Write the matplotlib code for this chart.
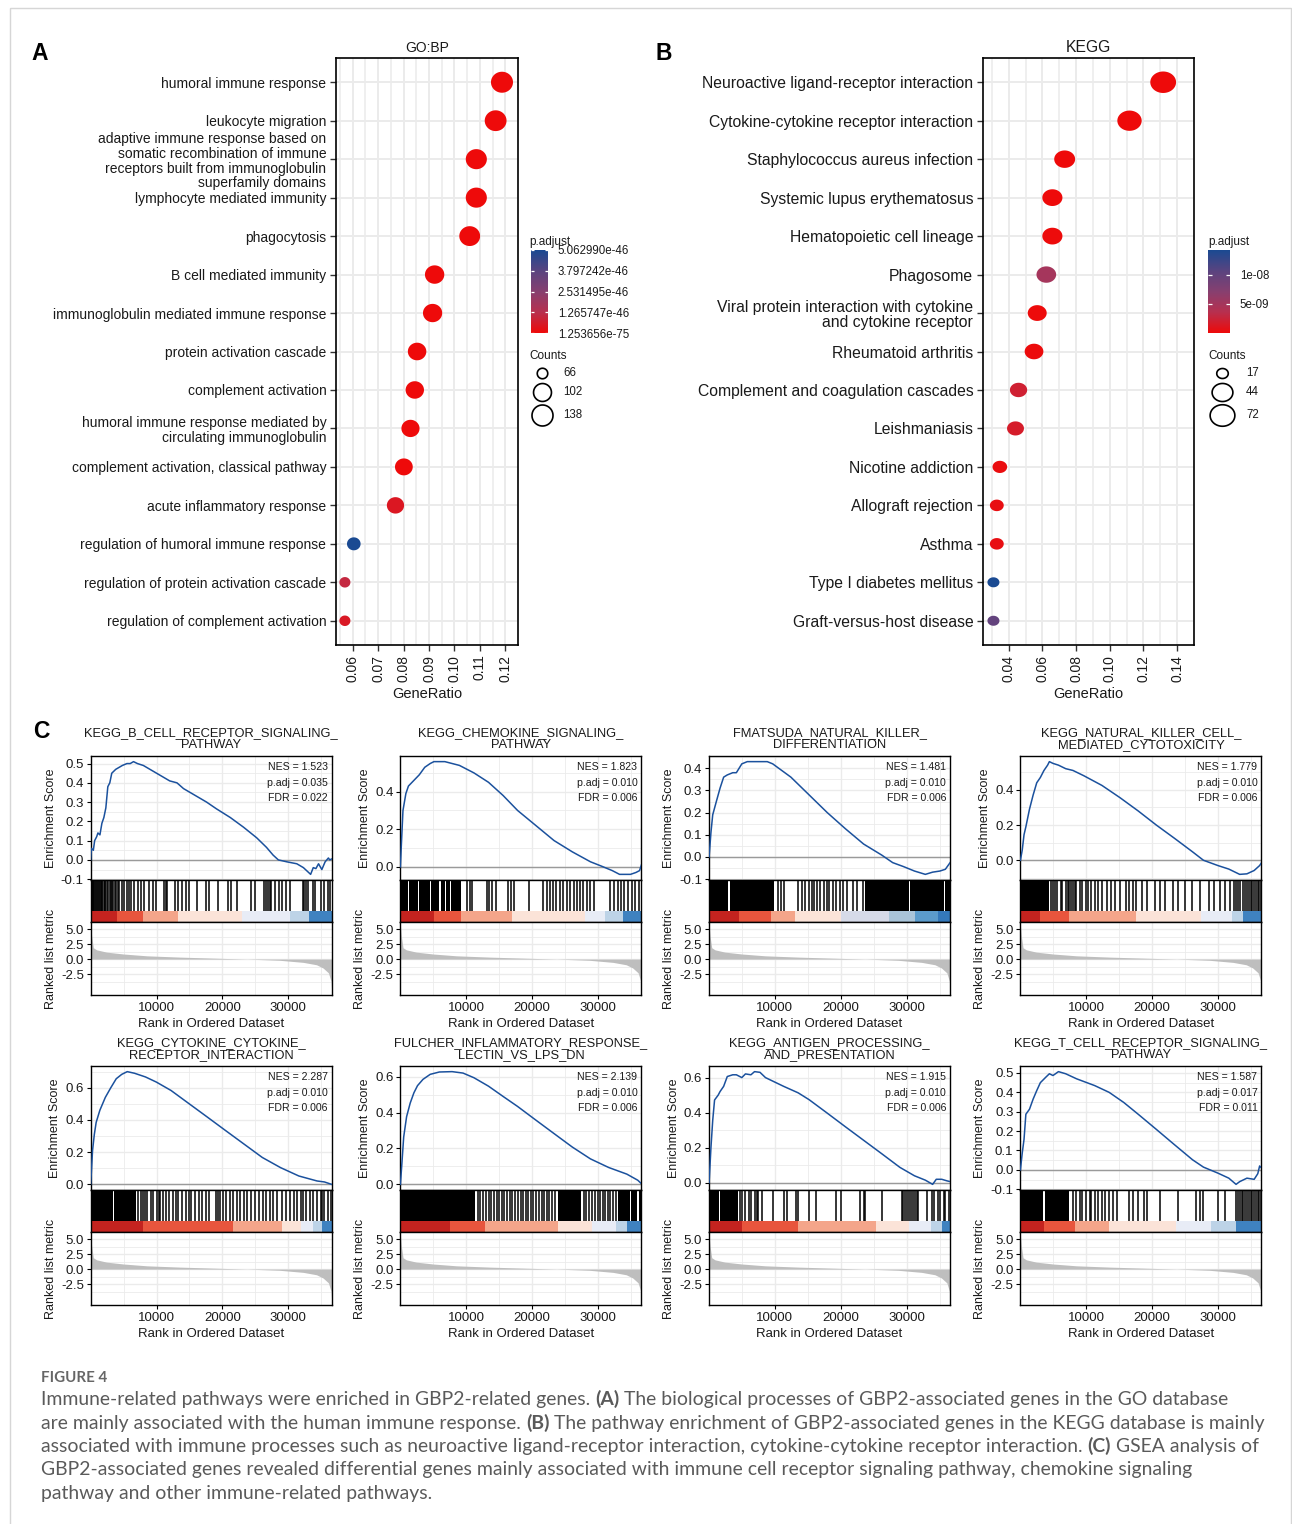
import numpy as np
import matplotlib
matplotlib.use("Agg")
import matplotlib.pyplot as plt
from matplotlib.path import Path
from matplotlib.colors import LinearSegmentedColormap, Normalize
from matplotlib.patches import Rectangle

plt.rcParams["font.family"] = ["Liberation Sans", "DejaVu Sans"]
plt.rcParams["axes.unicode_minus"] = False

# ------------------------------------------------------------------ data A
go_terms = [
    "humoral immune response",
    "leukocyte migration",
    "adaptive immune response based on\nsomatic recombination of immune\nreceptors built from immunoglobulin\nsuperfamily domains",
    "lymphocyte mediated immunity",
    "phagocytosis",
    "B cell mediated immunity",
    "immunoglobulin mediated immune response",
    "protein activation cascade",
    "complement activation",
    "humoral immune response mediated by\ncirculating immunoglobulin",
    "complement activation, classical pathway",
    "acute inflammatory response",
    "regulation of humoral immune response",
    "regulation of protein activation cascade",
    "regulation of complement activation",
]
go_ratio = [0.1187, 0.1162, 0.1086, 0.1086, 0.1060, 0.0922, 0.0914, 0.0853,
            0.0844, 0.0827, 0.0801, 0.0768, 0.0604, 0.0569, 0.0569]
go_count = [138, 135, 126, 126, 123, 107, 106, 99, 98, 96, 93, 89, 70, 66, 66]
go_padj = [1.253656e-75, 3e-70, 5e-66, 5e-66, 2e-68, 1e-58, 4e-58, 2e-55,
           3e-55, 1e-54, 2e-53, 4.5e-47, 5.062990e-46, 1.0e-46, 5.1e-47]
go_padj_labels = ["1.253656e-75", "1.265747e-46", "2.531495e-46",
                  "3.797242e-46", "5.062990e-46"]
go_xticks = [0.06, 0.07, 0.08, 0.09, 0.10, 0.11, 0.12]
go_count_breaks = [66, 102, 138]

# ------------------------------------------------------------------ data B
kegg_terms = [
    "Neuroactive ligand-receptor interaction",
    "Cytokine-cytokine receptor interaction",
    "Staphylococcus aureus infection",
    "Systemic lupus erythematosus",
    "Hematopoietic cell lineage",
    "Phagosome",
    "Viral protein interaction with cytokine\nand cytokine receptor",
    "Rheumatoid arthritis",
    "Complement and coagulation cascades",
    "Leishmaniasis",
    "Nicotine addiction",
    "Allograft rejection",
    "Asthma",
    "Type I diabetes mellitus",
    "Graft-versus-host disease",
]
kegg_ratio = [0.1317, 0.1117, 0.0732, 0.0659, 0.0659, 0.0623, 0.0569, 0.0550,
              0.0458, 0.0440, 0.0347, 0.0329, 0.0329, 0.0309, 0.0309]
kegg_count = [72, 61, 40, 36, 36, 34, 31, 30, 25, 24, 19, 18, 18, 17, 17]
kegg_padj = [1.2e-12, 3e-12, 2e-11, 5e-11, 6e-11, 5.0e-09, 1e-10, 1.5e-10,
             2.1e-09, 1.7e-09, 3e-10, 4e-10, 4e-10, 1.428e-08, 1.0e-08]
kegg_padj_labels = ["5e-09", "1e-08"]
kegg_xticks = [0.04, 0.06, 0.08, 0.10, 0.12, 0.14]
kegg_count_breaks = [17, 44, 72]

# ------------------------------------------------------------------ data C
N_RANKS = 36600
rank_ticks = [10000, 20000, 30000]
metric_rank = [1, 150, 400, 900, 2400, 5000, 8500, 13600, 18600, 23700, 28700,
               32300, 34300, 35300, 36100, 36500, 36600]
metric_value = [5.7, 3.8, 1.9, 1.55, 1.17, 0.85, 0.55, 0.33, 0.17, 0.0, -0.2,
                -0.55, -0.95, -1.5, -2.3, -3.7, -5.5]
metric_ticks = [-2.5, 0.0, 2.5, 5.0]

gsea_titles = [
    "KEGG_B_CELL_RECEPTOR_SIGNALING_\nPATHWAY",
    "KEGG_CHEMOKINE_SIGNALING_\nPATHWAY",
    "FMATSUDA_NATURAL_KILLER_\nDIFFERENTIATION",
    "KEGG_NATURAL_KILLER_CELL_\nMEDIATED_CYTOTOXICITY",
    "KEGG_CYTOKINE_CYTOKINE_\nRECEPTOR_INTERACTION",
    "FULCHER_INFLAMMATORY_RESPONSE_\nLECTIN_VS_LPS_DN",
    "KEGG_ANTIGEN_PROCESSING_\nAND_PRESENTATION",
    "KEGG_T_CELL_RECEPTOR_SIGNALING_\nPATHWAY",
]
gsea_nes = [1.523, 1.823, 1.481, 1.779, 2.287, 2.139, 1.915, 1.587]
gsea_padj = [0.035, 0.010, 0.010, 0.010, 0.010, 0.010, 0.010, 0.017]
gsea_fdr = [0.022, 0.006, 0.006, 0.006, 0.006, 0.006, 0.006, 0.011]
gsea_es_ticks = [
    [-0.1, 0.0, 0.1, 0.2, 0.3, 0.4, 0.5],
    [0.0, 0.2, 0.4],
    [-0.1, 0.0, 0.1, 0.2, 0.3, 0.4],
    [0.0, 0.2, 0.4],
    [0.0, 0.2, 0.4, 0.6],
    [0.0, 0.2, 0.4, 0.6],
    [0.0, 0.2, 0.4, 0.6],
    [-0.1, 0.0, 0.1, 0.2, 0.3, 0.4, 0.5],
]

es_rank_1 = [0, 100, 400, 600, 900, 1100, 1400, 1700, 2000, 2300, 2600, 2900, 3200, 3500, 3800, 4300,
             4800, 5500, 6000, 6500, 7100, 8000, 9000, 10000, 11000, 12000, 13100, 14100, 15100, 16100,
             17600, 19100, 21200, 23200, 25200, 26700, 27700, 28500, 29800, 31300, 32300, 33400, 33800,
             34200, 34600, 35100, 35600, 36100, 36300, 36600]
es_val_1 = [0.0, 0.06, 0.05, 0.10, 0.12, 0.14, 0.13, 0.19, 0.22, 0.27, 0.38, 0.40, 0.45, 0.46, 0.47, 0.48,
            0.49, 0.50, 0.50, 0.51, 0.50, 0.49, 0.47, 0.45, 0.43, 0.41, 0.40, 0.37, 0.35, 0.33,
            0.30, 0.265, 0.22, 0.17, 0.115, 0.065, 0.025, 0.0, -0.01, -0.02, -0.04, -0.075, -0.04,
            -0.045, -0.02, -0.05, -0.01, 0.01, 0.0, 0.005]
es_rank_2 = [0, 110, 390, 830, 1220, 1770, 2320, 2870, 3700, 4530, 5090, 6750, 8960, 11170, 13380,
             15590, 17800, 20570, 23330, 26100, 28860, 30520, 32180, 33280, 34940, 35770, 36320, 36600]
es_val_2 = [0.0, 0.09, 0.30, 0.39, 0.43, 0.45, 0.47, 0.49, 0.53, 0.55, 0.56, 0.56, 0.54, 0.50, 0.45,
            0.38, 0.30, 0.22, 0.14, 0.08, 0.027, 0.004, -0.02, -0.04, -0.04, -0.03, -0.02, 0.01]
es_rank_3 = [0, 280, 550, 1100, 1660, 2210, 2760, 3590, 4140, 4970, 5800, 7450, 8830, 9660, 12420,
             15180, 17940, 20700, 23460, 26220, 27880, 29530, 31190, 32840, 33950, 35050, 35880, 36600]
es_val_3 = [0.0, 0.11, 0.19, 0.25, 0.31, 0.36, 0.37, 0.38, 0.38, 0.42, 0.43, 0.43, 0.43, 0.42, 0.36,
            0.28, 0.20, 0.127, 0.058, 0.008, -0.026, -0.044, -0.064, -0.079, -0.069, -0.064, -0.056, -0.026]
es_rank_4 = [0, 280, 550, 830, 1380, 1930, 2480, 3030, 3580, 4130, 4400, 4950, 5780, 6880, 7980, 9630,
             12380, 15140, 17890, 20640, 23390, 26140, 27800, 30000, 31650, 33300, 34400, 35500, 36330, 36600]
es_val_4 = [0.0, 0.058, 0.145, 0.19, 0.29, 0.37, 0.44, 0.47, 0.51, 0.54, 0.56, 0.55, 0.54, 0.52, 0.51,
            0.48, 0.425, 0.355, 0.28, 0.20, 0.125, 0.048, 0.0, -0.03, -0.05, -0.08, -0.077, -0.058, -0.03, -0.015]
es_rank_5 = [0, 280, 550, 830, 1390, 2220, 3050, 3880, 4710, 5550, 6650, 8320, 9980, 12200, 14970,
             17740, 20520, 23290, 26060, 28830, 31610, 34380, 35490, 36600]
es_val_5 = [0.0, 0.21, 0.31, 0.385, 0.46, 0.54, 0.60, 0.656, 0.683, 0.70, 0.69, 0.667, 0.635, 0.583,
            0.50, 0.417, 0.333, 0.25, 0.167, 0.104, 0.052, 0.021, 0.015, 0.0]
es_rank_6 = [0, 220, 500, 940, 1490, 2050, 2600, 3430, 4530, 5920, 7850, 9510, 11170, 13380, 15590,
             17800, 20570, 23330, 26100, 28860, 31630, 34390, 36050, 36600]
es_val_6 = [0.0, 0.113, 0.264, 0.377, 0.453, 0.51, 0.55, 0.585, 0.613, 0.626, 0.628, 0.62, 0.594,
            0.547, 0.49, 0.434, 0.358, 0.283, 0.208, 0.142, 0.094, 0.057, 0.023, 0.004]
es_rank_7 = [0, 280, 550, 830, 1380, 1660, 2210, 2760, 3590, 4140, 4970, 5520, 6350, 6900, 7730, 8560,
             9660, 11320, 13520, 15180, 17940, 20700, 23460, 26220, 28980, 31190, 32840, 33950, 34500,
             35330, 36160, 36600]
es_val_7 = [0.0, 0.2, 0.356, 0.472, 0.50, 0.52, 0.55, 0.606, 0.616, 0.616, 0.60, 0.621, 0.616, 0.634,
            0.63, 0.60, 0.58, 0.55, 0.513, 0.474, 0.397, 0.319, 0.242, 0.165, 0.087, 0.039, 0.014,
            -0.01, 0.019, 0.019, 0.0097, 0.006]
es_rank_8 = [0, 280, 550, 830, 1380, 1930, 2480, 3030, 3850, 4400, 4950, 5780, 6880, 8530, 11280,
             13480, 15690, 17890, 20640, 23390, 26140, 27800, 30000, 31650, 32750, 33300, 34400, 35500,
             36050, 36330, 36600]
es_val_8 = [0.0, 0.087, 0.157, 0.287, 0.313, 0.365, 0.409, 0.45, 0.478, 0.496, 0.487, 0.507, 0.496,
            0.47, 0.435, 0.40, 0.348, 0.287, 0.209, 0.13, 0.052, 0.014, -0.017, -0.043, -0.075, -0.061,
            -0.043, -0.049, -0.02, 0.02, 0.01]

hits_1 = [180, 280, 420, 550, 700, 830, 1000, 1120, 1220, 1390, 1550, 1680, 1770, 2000, 2120, 2220, 2500,
          2660, 2880, 3050, 3220, 3440, 3660, 3880, 4160, 4330, 4710, 4990, 5440, 5820, 6100, 6650,
          7210, 7650, 8040, 8870, 9430, 9980, 11100, 11400, 11600, 12800, 13300, 13900, 14400, 15000,
          16100, 17500, 18000, 19400, 20800, 21300, 22200, 24400, 25000, 26300, 26600, 26900, 27200,
          27400, 28000, 28600, 29100, 29700, 30200, 32200, 32400, 32700, 33000, 33800, 34100, 34900,
          35500, 36000, 36300]
blocks_1 = []
hits_2 = [10100, 10500, 10900, 13100, 13400, 13900, 14500, 16400, 16800, 17300, 19500, 21700, 22200,
          22700, 23100, 23600, 24200, 24700, 25300, 25800, 26400, 26800, 27300, 27800, 28300, 28800,
          29400, 31900, 32400, 33000, 33500, 34000, 34600, 35200, 35700, 36200]
blocks_2 = [(0, 1100), (1300, 2600), (2800, 4500), (4700, 5900), (6100, 6700), (6900, 7500), (7700, 9200)]
hits_3 = [10500, 10900, 11300, 13500, 14100, 14600, 15200, 15600, 16000, 16400, 16800, 17400, 17900,
          18200, 18800, 19300, 19900, 20400, 21000, 21800, 22400, 23300]
blocks_3 = [(0, 2900), (3100, 9900), (23700, 30300), (30500, 35600), (35800, 36600)]
hits_4 = [4700, 5000, 5200, 5500, 6100, 6300, 6900, 7200, 7400, 7700, 8000, 8300, 8500, 9100, 9400,
          9900, 10200, 10700, 11300, 11800, 12400, 13200, 13800, 14300, 15100, 16000, 16500, 17100,
          17600, 18400, 19300, 20400, 21200, 22000, 23100, 23900, 25000, 26100, 27200, 28600, 29400,
          30300, 31100, 31900, 32500, 32700, 33000, 33300, 33800, 34100, 34400, 34700, 35000, 35200,
          35500, 35800, 36100, 36300, 36550]
blocks_4 = [(0, 4400)]
hits_5 = [7200, 7650, 7900, 8300, 8600, 9100, 9400, 10000, 10300, 10600, 11000, 11400, 11900, 12500,
          12900, 13300, 13900, 14400, 15000, 15200, 15800, 16400, 16900, 17500, 18000, 19000, 19300,
          19700, 20100, 20500, 21100, 21600, 22200, 22700, 23300, 23800, 24400, 25000, 25500, 26100,
          26600, 27200, 27700, 28300, 29100, 29700, 30200, 30800, 31300, 31900, 32300, 32700, 33300,
          33800, 34400, 34900, 35200, 35500, 36000, 36500]
blocks_5 = [(0, 3400), (3600, 6900)]
hits_6 = [11800, 12150, 12600, 12950, 13400, 13750, 14250, 14600, 15000, 15450, 15800, 16250, 16650,
          17000, 17450, 17800, 18250, 18600, 19050, 19400, 19850, 20200, 20650, 21000, 21450, 21800,
          22250, 22600, 23050, 23450, 27900, 28250, 28700, 29150, 29500, 29950, 30300, 30750, 31100,
          31550, 31900, 32350, 32700]
blocks_6 = [(0, 11400), (23900, 27500), (33000, 34800), (35000, 36000), (36200, 36600)]
hits_7 = [4700, 5000, 5500, 6100, 6300, 6900, 7200, 7500, 8000, 9700, 11300, 11900, 13200, 13500, 15200,
          16300, 19300, 20100, 22900, 23500, 23700, 26200, 29300, 29500, 29800, 30100, 30400, 30600,
          30900, 31200, 31500, 31700, 33100, 33900, 34200, 34800, 35100, 35600, 35900, 36400]
blocks_7 = [(0, 1500), (1700, 4400)]
hits_8 = [8000, 8500, 9100, 9400, 9900, 10500, 10700, 11300, 11800, 12400, 12900, 13500, 14000, 14600,
          16500, 17100, 17900, 18700, 19300, 21200, 23900, 26700, 27200, 27800, 30000, 31100, 32700,
          33000, 33300, 33600, 33800, 34100, 34400, 34700, 35000, 35200, 35500, 35800, 36100, 36300, 36550]
blocks_8 = [(0, 3500), (3700, 7400)]

strip_bounds_1 = [0, 4000, 7900, 13300, 23000, 30300, 33200, 36600]
strip_bounds_2 = [0, 5100, 9200, 17000, 28000, 31100, 33800, 36600]
strip_bounds_3 = [0, 4600, 9400, 13000, 20100, 27300, 31200, 34800, 36600]
strip_bounds_4 = [0, 3000, 7400, 17600, 27500, 32200, 33800, 36600]
strip_bounds_5 = [0, 8000, 21600, 29100, 31900, 33800, 35200, 36600]
strip_bounds_6 = [0, 7600, 12800, 23900, 29100, 32700, 34400, 36600]
strip_bounds_7 = [0, 5000, 13500, 25400, 30400, 33700, 35300, 36600]
strip_bounds_8 = [0, 3600, 8300, 13500, 23700, 28900, 32700, 36600]
strip_colors_7seg = ["#C4231F", "#E8553D", "#F4A58A", "#FBE3D8", "#E8ECF6", "#BDD3E7", "#3F82C0"]
strip_colors_3 = ["#C4231F", "#E8553D", "#F4A58A", "#FBE3D8", "#D6DAE8", "#A9C4D9", "#5B9BCB", "#3478BA"]

# ------------------------------------------------------------------ figure
DPI = 100
W, H = 1292, 1524
fig = plt.figure(figsize=(W / DPI, H / DPI), dpi=DPI)
fig.patch.set_facecolor("white")
GRID = "#EBEBEB"
TXT = "#1A1A1A"


def add_ax(x0, y0, x1, y1, **kw):
    return fig.add_axes([x0 / W, 1 - y1 / H, (x1 - x0) / W, (y1 - y0) / H], **kw)


def ellipse_path(aspect):
    t = np.linspace(0, 2 * np.pi, 73)
    v = np.column_stack([aspect * np.cos(t), np.sin(t)])
    return Path(v, closed=True)


def size_map(counts, lo, hi, dmin, dmax):
    t = (np.asarray(counts, float) - lo) / (hi - lo)
    return dmin + np.sqrt(np.clip(t, 0, 1)) * (dmax - dmin)


padj_cmap = LinearSegmentedColormap.from_list(
    "padj", ["#EE0A0A", "#B8304F", "#874070", "#5A4480", "#1A4A92"])


def dotplot(ax, terms, ratio, count, padj, ticks, xlim, dmin, dmax, aspect, title, fs):
    n = len(terms)
    ypos = np.arange(n, 0, -1)
    norm = Normalize(vmin=min(padj), vmax=max(padj))
    diam = size_map(count, min(count), max(count), dmin, dmax)
    wpt = diam * aspect * 72.0 / DPI
    ax.scatter(ratio, ypos, s=wpt ** 2, c=padj_cmap(norm(np.asarray(padj))),
               marker=ellipse_path(aspect), linewidths=0, zorder=3)
    ax.set_ylim(0.37, n + 0.63)
    ax.set_xlim(*xlim)
    ax.set_yticks(ypos)
    ax.set_yticklabels(terms, fontsize=fs, color=TXT)
    for lbl in ax.get_yticklabels():
        lbl.set_linespacing(1.08)
    ax.set_xticks(ticks)
    ax.set_xticklabels([f"{t:.2f}" for t in ticks], rotation=90, fontsize=10, color=TXT)
    step = ticks[1] - ticks[0]
    minor = [ticks[0] - step / 2] + [t + step / 2 for t in ticks]
    ax.set_xticks(minor, minor=True)
    ax.set_axisbelow(True)
    ax.grid(which="major", color=GRID, lw=1.4)
    ax.grid(which="minor", axis="x", color=GRID, lw=1.1)
    ax.tick_params(which="minor", length=0)
    ax.tick_params(which="major", length=4, width=1.0, color="#333333", pad=3)
    for sp in ax.spines.values():
        sp.set_linewidth(1.2)
    ax.set_title(title, fontsize=fs, pad=4, color=TXT)
    ax.set_xlabel("GeneRatio", fontsize=10.5, labelpad=4, color=TXT)


def colorbar_legend(x0, y0, x1, y1, vmin, vmax, labels):
    cax = add_ax(x0, y0, x1, y1)
    grad = np.linspace(vmin, vmax, 256)[:, None]
    cax.imshow(grad, aspect="auto", cmap=padj_cmap, norm=Normalize(vmin, vmax),
               origin="lower", extent=[0, 1, vmin, vmax])
    vals = [float(s) for s in labels]
    cax.hlines(vals, 0, 0.2, colors="white", lw=0.9)
    cax.hlines(vals, 0.8, 1, colors="white", lw=0.9)
    cax.set_xlim(0, 1)
    cax.set_ylim(vmin, vmax)
    cax.yaxis.tick_right()
    cax.set_yticks(vals)
    cax.set_yticklabels(labels, fontsize=8.3, color=TXT)
    cax.tick_params(length=0, pad=7)
    cax.set_xticks([])
    for sp in cax.spines.values():
        sp.set_visible(False)


# ---- Panel A
axA = add_ax(336, 58, 518, 645)
dotplot(axA, go_terms, go_ratio, go_count, go_padj, go_xticks, (0.0534, 0.1244),
        10.5, 21.0, 1.05, "GO:BP", 10)
colorbar_legend(531, 250, 548, 333, min(go_padj), max(go_padj), go_padj_labels)

# ---- Panel B
axB = add_ax(983, 58, 1194, 645)
dotplot(axB, kegg_terms, kegg_ratio, kegg_count, kegg_padj, kegg_xticks, (0.0247, 0.1402),
        10.0, 21.5, 1.2, "KEGG", 11.3)
colorbar_legend(1208, 250, 1230, 333, min(kegg_padj), max(kegg_padj), kegg_padj_labels)

# ---- Panel C (GSEA)
panels = [
    dict(r=es_rank_1, v=es_val_1, hits=hits_1, blocks=blocks_1, sb=strip_bounds_1, sc=strip_colors_7seg),
    dict(r=es_rank_2, v=es_val_2, hits=hits_2, blocks=blocks_2, sb=strip_bounds_2, sc=strip_colors_7seg),
    dict(r=es_rank_3, v=es_val_3, hits=hits_3, blocks=blocks_3, sb=strip_bounds_3, sc=strip_colors_3),
    dict(r=es_rank_4, v=es_val_4, hits=hits_4, blocks=blocks_4, sb=strip_bounds_4, sc=strip_colors_7seg),
    dict(r=es_rank_5, v=es_val_5, hits=hits_5, blocks=blocks_5, sb=strip_bounds_5, sc=strip_colors_7seg),
    dict(r=es_rank_6, v=es_val_6, hits=hits_6, blocks=blocks_6, sb=strip_bounds_6, sc=strip_colors_7seg),
    dict(r=es_rank_7, v=es_val_7, hits=hits_7, blocks=blocks_7, sb=strip_bounds_7, sc=strip_colors_7seg),
    dict(r=es_rank_8, v=es_val_8, hits=hits_8, blocks=blocks_8, sb=strip_bounds_8, sc=strip_colors_7seg),
]
col_x = [90.7, 400.4, 709.1, 1020.4]
row_y = [756, 1066]
PW, ES_H, HIT_H, MET_H = 241, 124, 41.7, 73.6
STRIP = 0.26


def style_grid(ax, yt):
    ax.set_xlim(0, N_RANKS)
    ax.set_xticks(rank_ticks)
    ax.set_xticks([5000, 15000, 25000, 35000], minor=True)
    st = yt[1] - yt[0]
    ax.set_yticks(yt)
    ax.set_yticks([yt[0] - st / 2] + [t + st / 2 for t in yt], minor=True)
    ax.set_axisbelow(True)
    ax.grid(which="major", color=GRID, lw=1.0)
    ax.grid(which="minor", color=GRID, lw=0.6)
    ax.tick_params(which="minor", length=0)
    ax.tick_params(which="major", length=3, width=0.8, labelsize=9.5, labelcolor=TXT, pad=2)
    for sp in ax.spines.values():
        sp.set_linewidth(1.0)


for i, p in enumerate(panels):
    x0 = col_x[i % 4]
    y0 = row_y[i // 4]
    x1 = x0 + PW
    ax_es = add_ax(x0, y0, x1, y0 + ES_H)
    ax_hit = add_ax(x0, y0 + ES_H, x1, y0 + ES_H + HIT_H)
    ax_m = add_ax(x0, y0 + ES_H + HIT_H, x1, y0 + ES_H + HIT_H + MET_H)

    # running enrichment score
    r = np.asarray(p["r"], float)
    v = np.asarray(p["v"], float)
    ax_es.axhline(0, color="#9A9A9A", lw=1.0, zorder=2)
    ax_es.plot(r, v, color="#1B519D", lw=1.1, zorder=3)
    lo, hi = v.min(), v.max()
    pad = 0.05 * (hi - lo)
    yt = gsea_es_ticks[i]
    style_grid(ax_es, yt)
    ax_es.set_ylim(lo - pad, hi + pad)
    ax_es.set_yticklabels([f"{t:.1f}" for t in yt])
    ax_es.tick_params(axis="x", which="both", length=0, labelbottom=False)
    ax_es.set_ylabel("Enrichment Score", fontsize=9, color=TXT, labelpad=3)
    stats = [f"NES = {gsea_nes[i]:.3f}", f"p.adj = {gsea_padj[i]:.3f}", f"FDR = {gsea_fdr[i]:.3f}"]
    for j, s in enumerate(stats):
        ax_es.annotate(s, xy=(1, 1), xycoords="axes fraction", xytext=(-4, -11 - 15.5 * j),
                       textcoords="offset pixels", ha="right", va="center", fontsize=7.6, color=TXT)
    t1, t2 = gsea_titles[i].split("\n")
    ax_es.annotate(t1, xy=(0.5, 1), xycoords="axes fraction", xytext=(0, 23),
                   textcoords="offset pixels", ha="center", va="center", fontsize=9.3, color=TXT)
    ax_es.annotate(t2, xy=(0.5, 1), xycoords="axes fraction", xytext=(0, 11),
                   textcoords="offset pixels", ha="center", va="center", fontsize=9.3, color=TXT)

    # hits and colour strip
    ax_hit.set_xlim(0, N_RANKS)
    ax_hit.set_ylim(0, 1)
    if p["blocks"]:
        ax_hit.broken_barh([(s, e - s) for s, e in p["blocks"]], (STRIP, 1 - STRIP),
                           facecolors="black", lw=0)
    ax_hit.vlines(p["hits"], STRIP, 1, colors="black", lw=1.1)
    sb = p["sb"]
    ax_hit.broken_barh([(sb[k], sb[k + 1] - sb[k]) for k in range(len(sb) - 1)], (0, STRIP),
                       facecolors=p["sc"], lw=0)
    ax_hit.set_xticks([])
    ax_hit.set_yticks([])
    for sp in ax_hit.spines.values():
        sp.set_linewidth(1.0)

    # ranked list metric
    mr = np.asarray(metric_rank, float)
    mv = np.asarray(metric_value, float)
    ax_m.fill_between(mr, 0, mv, color="#BEBEBE", lw=0, zorder=2)
    style_grid(ax_m, metric_ticks)
    mpad = 0.05 * (mv.max() - mv.min())
    ax_m.set_ylim(mv.min() - mpad, mv.max() + mpad)
    ax_m.set_yticklabels([f"{t:.1f}" for t in metric_ticks])
    ax_m.set_xticklabels([str(t) for t in rank_ticks])
    ax_m.set_ylabel("Ranked list metric", fontsize=9, color=TXT, labelpad=3)
    ax_m.set_xlabel("Rank in Ordered Dataset", fontsize=9.5, color=TXT, labelpad=3)

# ------------------------------------------------------------------ overlay
ov = fig.add_axes([0, 0, 1, 1], zorder=10)
ov.set_xlim(0, W)
ov.set_ylim(H, 0)
ov.axis("off")
ov.patch.set_visible(False)

ov.add_patch(Rectangle((10, 8), 1281, 1530, fill=False, edgecolor="#D6D6D6", lw=1.0))
for lab, (x, y) in zip(["A", "B", "C"], [(40, 53), (664, 53), (41, 732)]):
    ov.text(x, y, lab, fontsize=16.5, fontweight="bold", ha="center", va="center", color="black")

# legend titles and size legends
ov.text(529, 242, "p.adjust", fontsize=8.5, ha="left", va="center", color=TXT)
ov.text(529, 356, "Counts", fontsize=8.5, ha="left", va="center", color=TXT)
ov.text(1208, 242, "p.adjust", fontsize=8.5, ha="left", va="center", color=TXT)
ov.text(1208, 356, "Counts", fontsize=8.5, ha="left", va="center", color=TXT)
for breaks, cnt, dmin, dmax, asp, cx, lx in [
        (go_count_breaks, go_count, 10.5, 21.0, 1.0, 542, 563),
        (kegg_count_breaks, kegg_count, 10.0, 21.5, 1.15, 1222, 1246)]:
    d = size_map(breaks, min(cnt), max(cnt), dmin, dmax)
    ys = [373, 392, 415]
    for b, dd, yy in zip(breaks, d, ys):
        ov.scatter([cx], [yy], s=(dd * asp * 0.72) ** 2, marker=ellipse_path(asp),
                   facecolors="white", edgecolors="black", linewidths=1.2)
        ov.text(lx, yy, str(b), fontsize=8.3, ha="left", va="center", color=TXT)

# ------------------------------------------------------------------ caption
CAP_FONT = ["Lato", "DejaVu Sans"]
CAP_COLOR = "#5A5A5A"
caption_lines = [
    [("Immune-related pathways were enriched in GBP2-related genes.", False), ("(A)", True),
     ("The biological processes of GBP2-associated genes in the GO database", False)],
    [("are mainly associated with the human immune response.", False), ("(B)", True),
     ("The pathway enrichment of GBP2-associated genes in the KEGG database is mainly", False)],
    [("associated with immune processes such as neuroactive ligand-receptor interaction, cytokine-cytokine receptor interaction.", False),
     ("(C)", True), ("GSEA analysis of", False)],
    [("GBP2-associated genes revealed differential genes mainly associated with immune cell receptor signaling pathway, chemokine signaling", False)],
    [("pathway and other immune-related pathways.", False)],
]
renderer = fig.canvas.get_renderer()


def tw(s, size, bold=False):
    t = ov.text(0, 0, s, fontsize=size, fontweight="bold" if bold else "normal", family=CAP_FONT)
    w = t.get_window_extent(renderer=renderer).width
    t.remove()
    return w


def line_width(pieces, size):
    sp = tw("a a", size) - tw("aa", size)
    return sum(tw(s, size, b) for s, b in pieces) + sp * (len(pieces) - 1)


base = 12.0
cap_size = base * 1221.0 / line_width(caption_lines[1], base)
space_w = tw("a a", cap_size) - tw("aa", cap_size)
baselines = [1405, 1428.5, 1452, 1475.5, 1499]
for pieces, yb in zip(caption_lines, baselines):
    x = 41
    for s, b in pieces:
        ov.text(x, yb, s, fontsize=cap_size, fontweight="bold" if b else "normal",
                family=CAP_FONT, color=CAP_COLOR, ha="left", va="baseline")
        x += tw(s, cap_size, b) + space_w

fig_size = 12.0
fig_size = fig_size * 66.0 / tw("FIGURE 4", fig_size, True)
ov.text(41, 1382, "FIGURE 4", fontsize=fig_size, family=CAP_FONT, fontweight="bold",
        color="#666666", ha="left", va="baseline")

fig.savefig("out.png", dpi=DPI, facecolor="white")
